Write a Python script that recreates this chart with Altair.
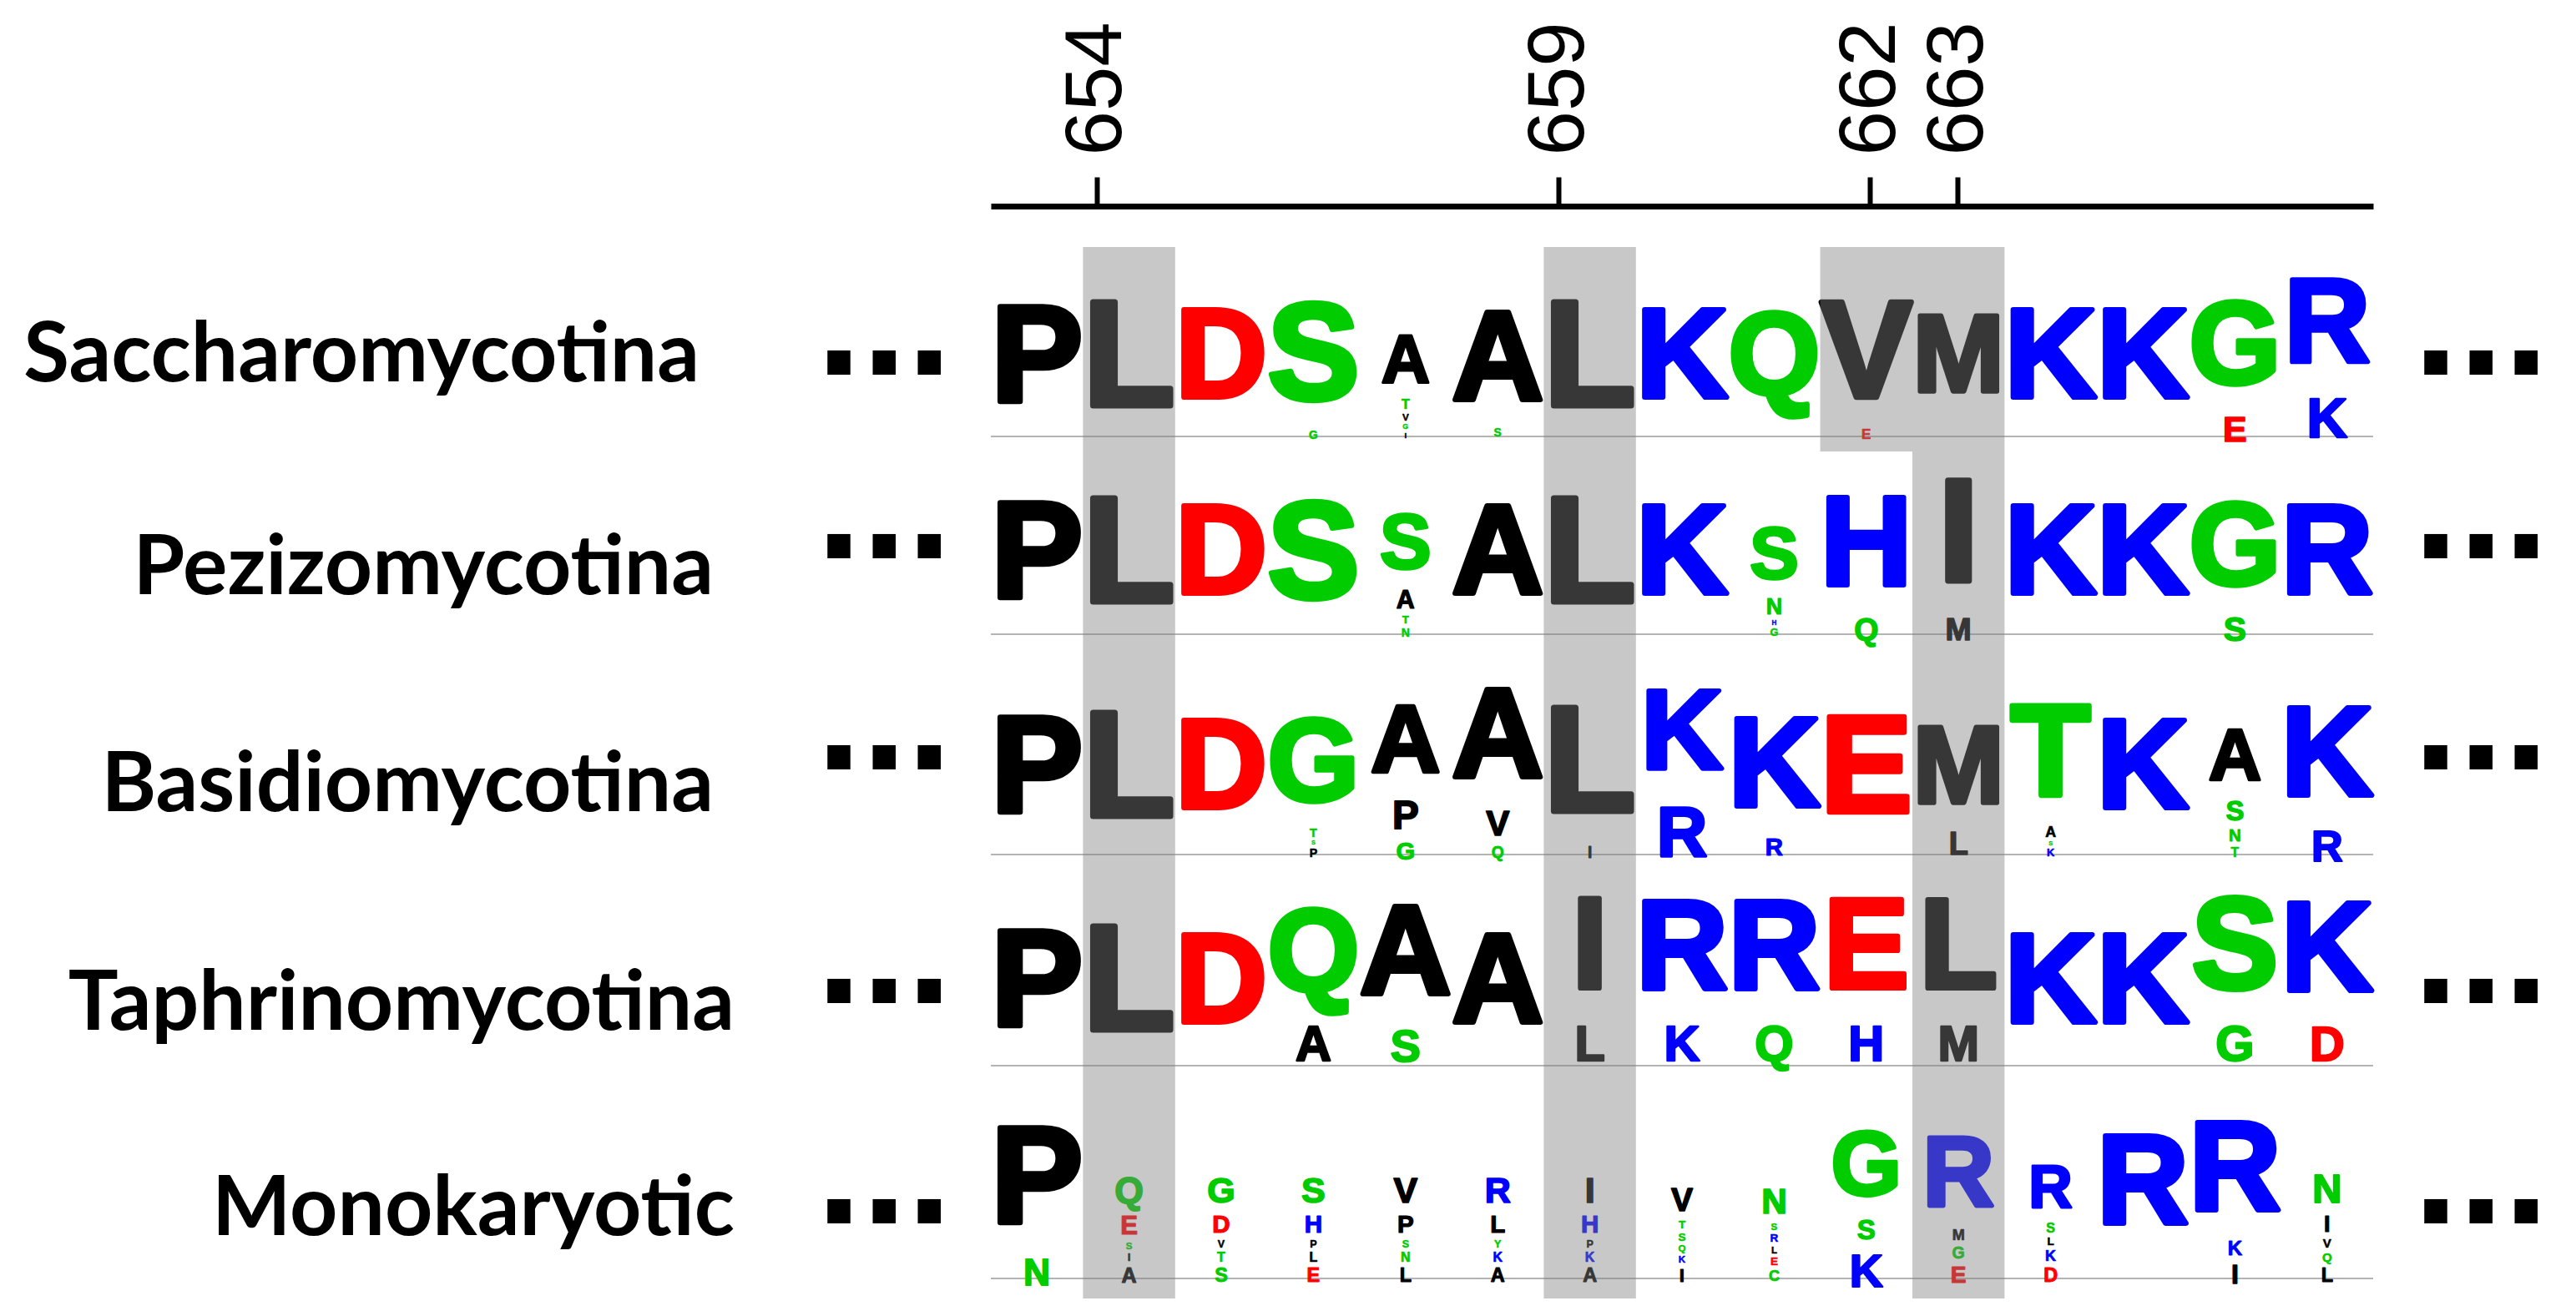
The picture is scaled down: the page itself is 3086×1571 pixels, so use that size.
import altair as alt
import pandas as pd

# ---------------- data ----------------
ROWS = ["Saccharomycotina", "Pezizomycotina", "Basidiomycotina", "Taphrinomycotina", "Monokaryotic"]
POSITIONS = list(range(653, 668))          # residue numbers of the 15 logo columns
TICK_LABELS = ["654", "659", "662", "663"] # labels on the top axis
TICK_AT = [653.65, 658.66, 662.04, 662.99] # where the reference draws those ticks (column units)
HIGHLIGHT_ALL = [654, 659, 663]            # shaded through every row
HIGHLIGHT_FIRST = [662]                    # shaded in the first row only

# letter stacks, bottom -> top, heights in bits
sacch = [
    [("P", 4.32)], [("L", 4.32)], [("D", 4.32)],
    [("G", 0.21), ("S", 3.79)],
    [("I", 0.15), ("G", 0.21), ("V", 0.28), ("T", 0.38), ("A", 1.23)],
    [("S", 0.21), ("A", 3.79)],
    [("L", 4.32)], [("K", 4.32)], [("Q", 4.32)],
    [("E", 0.26), ("V", 3.79)],
    [("M", 4.32)], [("K", 4.32)], [("K", 4.32)],
    [("E", 0.70), ("G", 2.98)],
    [("K", 1.28), ("R", 2.17)],
]
pezizo = [
    [("P", 4.32)], [("L", 4.32)], [("D", 4.32)], [("S", 4.32)],
    [("N", 0.21), ("T", 0.31), ("A", 0.71), ("S", 1.38)],
    [("A", 4.32)], [("L", 4.32)], [("K", 4.32)],
    [("G", 0.19), ("H", 0.19), ("N", 0.63), ("S", 1.31)],
    [("Q", 0.56), ("H", 3.13)],
    [("M", 0.56), ("I", 3.13)],
    [("K", 4.32)], [("K", 4.32)],
    [("S", 0.61), ("G", 3.09)],
    [("R", 4.32)],
]
basidio = [
    [("P", 4.32)], [("L", 4.32)], [("D", 4.32)],
    [("P", 0.20), ("S", 0.16), ("T", 0.31), ("G", 2.52)],
    [("G", 0.41), ("P", 1.04), ("A", 1.62)],
    [("Q", 0.27), ("V", 0.92), ("A", 2.40)],
    [("I", 0.27), ("L", 3.68)],
    [("R", 1.45), ("K", 1.90)],
    [("R", 0.41), ("K", 3.58)],
    [("E", 4.32)],
    [("L", 0.53), ("M", 3.21)],
    [("K", 0.18), ("S", 0.16), ("A", 0.39), ("T", 2.19)],
    [("K", 4.32)],
    [("T", 0.22), ("N", 0.45), ("S", 0.72), ("A", 1.23)],
    [("R", 0.76), ("K", 2.83)],
]
taphrino = [
    [("P", 4.32)], [("L", 4.32)], [("D", 4.32)],
    [("A", 1.21), ("Q", 2.22)],
    [("S", 1.09), ("A", 2.38)],
    [("A", 4.32)],
    [("L", 1.21), ("I", 2.26)],
    [("K", 1.21), ("R", 2.22)],
    [("Q", 1.21), ("R", 2.22)],
    [("H", 1.21), ("E", 2.22)],
    [("M", 1.21), ("L", 2.22)],
    [("K", 4.32)], [("K", 4.32)],
    [("G", 1.21), ("S", 2.30)],
    [("D", 1.17), ("K", 2.28)],
]
mono = [
    [("N", 0.57), ("P", 3.16)],
    [("A", 0.32), ("I", 0.27), ("S", 0.23), ("E", 0.62), ("Q", 0.57)],
    [("S", 0.30), ("T", 0.32), ("V", 0.25), ("D", 0.59), ("G", 0.55)],
    [("E", 0.30), ("L", 0.32), ("P", 0.25), ("H", 0.59), ("S", 0.55)],
    [("L", 0.30), ("N", 0.32), ("S", 0.25), ("P", 0.59), ("V", 0.55)],
    [("A", 0.30), ("K", 0.32), ("Y", 0.25), ("L", 0.59), ("R", 0.55)],
    [("A", 0.30), ("K", 0.32), ("P", 0.25), ("H", 0.59), ("I", 0.55)],
    [("I", 0.29), ("K", 0.23), ("Q", 0.23), ("S", 0.27), ("T", 0.27), ("V", 0.50)],
    [("C", 0.23), ("E", 0.27), ("L", 0.23), ("R", 0.27), ("S", 0.23), ("N", 0.54)],
    [("K", 0.71), ("S", 0.66), ("G", 1.39)],
    [("E", 0.36), ("G", 0.39), ("M", 0.36), ("R", 1.52)],
    [("D", 0.30), ("K", 0.36), ("L", 0.27), ("S", 0.32), ("R", 0.93)],
    [("R", 4.32)],
    [("I", 0.41), ("K", 0.48), ("R", 2.27)],
    [("L", 0.30), ("Q", 0.30), ("V", 0.30), ("I", 0.54), ("N", 0.62)],
]
STACKS = [sacch, pezizo, basidio, taphrino, mono]
MAX_BITS = 4.32

# ---------------- layout / style ----------------
PAD_L, PAD_T = 1179, 239
PLOT_W, PLOT_H = 1656, 1316
PAD_R = 3070 - PAD_L - PLOT_W
ORIG_X, ORIG_Y = 8 + PAD_L, 8 + PAD_T          # page position of the plot origin
X_DOMAIN = [652.5, 667.5]
PX_PER_UNIT = PLOT_W / (X_DOMAIN[1] - X_DOMAIN[0])

ROW_BASE = [523, 760, 1024, 1277, 1532]          # page y of each logo baseline
ROW_FULL = [203, 207, 221, 214, 242]             # px height of a fully conserved column
LOGO_TOP_LIMIT, LOGO_BOTTOM_LIMIT = 290, 1555
LABEL_RIGHT = [838, 855, 855, 880, 880]
LABEL_BASE = [457, 712, 972, 1234, 1480]
DOT_MID = [435, 655, 908, 1188, 1452]
DOT_LEFT, DOT_RIGHT = 978, 2891
BAND_TOP, BAND_BOTTOM, BAND_FIRST_BOTTOM = 296, 1556, 541

GREEN, BLUE, RED, BLACK = "#00CC00", "#0000FF", "#FF0000", "#000000"
COLOR = {}
for c in "GSTYCNQ":
    COLOR[c] = GREEN
for c in "KRH":
    COLOR[c] = BLUE
for c in "DE":
    COLOR[c] = RED
for c in "AVLIPWFM":
    COLOR[c] = BLACK
# advance widths (em) of Liberation Sans Bold capitals
LOGO_FONT = "Liberation Sans"
ADV = {"A": .722, "C": .722, "D": .722, "E": .667, "G": .778, "H": .722, "I": .278, "K": .722, "L": .611,
       "M": .833, "N": .722, "P": .667, "Q": .778, "R": .722, "S": .667, "T": .611, "V": .667, "Y": .667}
ASC, DESC, CAP = 0.905, 0.212, 0.716   # font box above / below the baseline, cap height (em)
BOX = ASC + DESC
FIT_W = 110                            # a letter's box never wider than one column


def px_to_x(px):
    return X_DOMAIN[0] + (px - ORIG_X) / PX_PER_UNIT


def py(page_y):
    return page_y - ORIG_Y


# vertical room for each row: half way between one row's baseline and the next row's top
row_top = [b - f for b, f in zip(ROW_BASE, ROW_FULL)]
limits = []
for r in range(len(ROWS)):
    top = LOGO_TOP_LIMIT if r == 0 else (ROW_BASE[r - 1] + row_top[r]) / 2
    bottom = LOGO_BOTTOM_LIMIT if r == len(ROWS) - 1 else (ROW_BASE[r] + row_top[r + 1]) / 2
    limits.append((top, bottom))

# ---------------- tables ----------------
rows = []
for r, stack in enumerate(STACKS):
    scale = ROW_FULL[r] / MAX_BITS
    base = ROW_BASE[r]
    for j, col in enumerate(stack):
        # slots (page y), bottom -> top
        slots, cum = [], 0.0
        for letter, bits in col:
            slots.append((letter, bits, base - (cum + bits) * scale, base - cum * scale))
            cum += bits
        # place letters top -> bottom so that their font boxes never overlap
        prev_bottom = limits[r][0]
        for k in range(len(slots) - 1, -1, -1):
            letter, bits, s_top, s_bot = slots[k]
            room_top = prev_bottom
            room_bot = limits[r][1] if k == 0 else s_bot
            h = s_bot - s_top
            fs = max(1.0, min((room_bot - room_top) / BOX, FIT_W / ADV[letter], h / CAP))
            baseline = (s_top + s_bot) / 2 + 0.5 * CAP * fs
            if baseline + DESC * fs > room_bot:
                baseline = room_bot - DESC * fs
            if baseline - ASC * fs < room_top:
                baseline = room_top + ASC * fs
            prev_bottom = baseline + DESC * fs
            rows.append({"row": ROWS[r], "pos": POSITIONS[j], "letter": letter, "bits": bits,
                         "y": py(baseline), "fs": fs, "sw": 0.04 * fs, "color": COLOR[letter]})
letters = pd.DataFrame(rows)

bands = pd.DataFrame(
    [{"x": p - 0.5, "x2": p + 0.5, "y": py(BAND_TOP), "y2": py(BAND_BOTTOM)} for p in HIGHLIGHT_ALL]
    + [{"x": p - 0.5, "x2": p + 0.5, "y": py(BAND_TOP), "y2": py(BAND_FIRST_BOTTOM)} for p in HIGHLIGHT_FIRST]
)
baselines = pd.DataFrame({"x": [X_DOMAIN[0]] * 5, "x2": [X_DOMAIN[1]] * 5, "y": [py(b) for b in ROW_BASE]})
labels = pd.DataFrame({"text": ROWS, "x": [px_to_x(v) for v in LABEL_RIGHT], "y": [py(v) for v in LABEL_BASE]})
DOT_FS = 195
dots = pd.DataFrame({
    "text": ["..."] * 10,
    "x": [px_to_x(DOT_LEFT)] * 5 + [px_to_x(DOT_RIGHT)] * 5,
    "y": [py(v) + 0.07 * DOT_FS for v in DOT_MID] * 2,
})
axis_df = pd.DataFrame({"pos": TICK_AT, "y": [0.0] * len(TICK_AT)})
label_expr = " : ".join(
    f"datum.value < {(TICK_AT[i] + TICK_AT[i + 1]) / 2:.3f} ? '{TICK_LABELS[i]}'" for i in range(len(TICK_AT) - 1)
) + f" : '{TICK_LABELS[-1]}'"

# ---------------- chart ----------------
xs = alt.Scale(domain=X_DOMAIN, nice=False, zero=False)
ys = alt.Scale(domain=[0, PLOT_H], reverse=True, nice=False, zero=False)

axis_layer = alt.Chart(axis_df).mark_point(opacity=0).encode(
    x=alt.X("pos:Q", scale=xs, axis=alt.Axis(
        orient="top", values=TICK_AT, labelExpr=label_expr, title=None, grid=False,
        domainColor="black", domainWidth=7, tickColor="black", tickWidth=6, tickSize=35,
        labelFont="Liberation Sans", labelFontSize=96, labelColor="black", labelAngle=-90,
        labelAlign="left", labelBaseline="middle", labelPadding=26, labelOverlap=False, labelBound=False,
        labelFlush=False)),
    y=alt.Y("y:Q", scale=ys, axis=None),
)

baseline_layer = alt.Chart(baselines).mark_rule(color="#b4b4b4", strokeWidth=2).encode(
    x=alt.X("x:Q", scale=xs), x2="x2:Q", y=alt.Y("y:Q", scale=ys))

letter_layer = alt.Chart(letters).mark_text(
    font=LOGO_FONT, fontWeight="bold", align="center", baseline="alphabetic", strokeJoin="round").encode(
    x=alt.X("pos:Q", scale=xs),
    y=alt.Y("y:Q", scale=ys),
    text="letter:N",
    color=alt.Color("color:N", scale=None),
    stroke=alt.Stroke("color:N", scale=None),
    strokeWidth=alt.StrokeWidth("sw:Q", scale=None),
    size=alt.Size("fs:Q", scale=None),
    tooltip=["row:N", "pos:Q", "letter:N", "bits:Q"],
)

band_layer = alt.Chart(bands).mark_rect(color="#808080", opacity=0.43).encode(
    x=alt.X("x:Q", scale=xs), x2="x2:Q", y=alt.Y("y:Q", scale=ys), y2="y2:Q")

label_layer = alt.Chart(labels).mark_text(
    font="Lato", fontWeight="bold", fontSize=100, align="right", baseline="alphabetic", color="black").encode(
    x=alt.X("x:Q", scale=xs), y=alt.Y("y:Q", scale=ys), text="text:N")

dot_layer = alt.Chart(dots).mark_text(
    font="Liberation Sans", fontWeight="bold", fontSize=DOT_FS, align="left", baseline="alphabetic",
    color="black").encode(
    x=alt.X("x:Q", scale=xs), y=alt.Y("y:Q", scale=ys), text="text:N")

chart = alt.layer(axis_layer, baseline_layer, letter_layer, band_layer, label_layer, dot_layer).properties(
    width=PLOT_W, height=PLOT_H,
    autosize=alt.AutoSizeParams(type="none"),
    padding={"left": PAD_L, "top": PAD_T, "right": PAD_R, "bottom": 0},
    background="white",
).configure_view(stroke=None)

chart.save("out.html", embed_options={"renderer": "svg", "actions": False})
